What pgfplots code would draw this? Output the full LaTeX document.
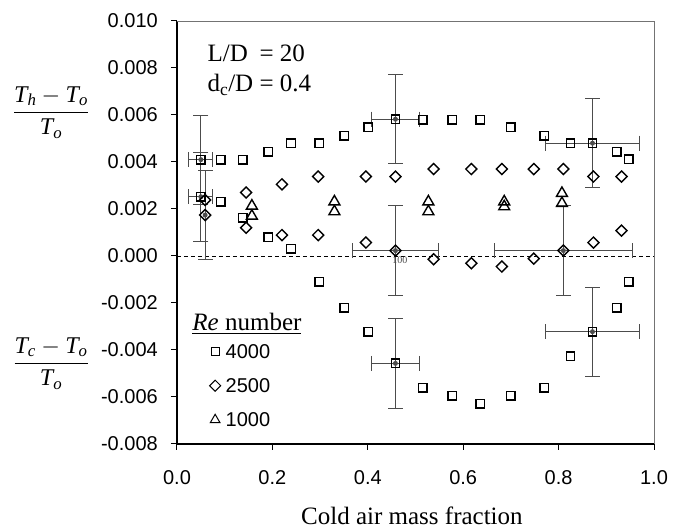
\RequirePackage{fix-cm}
\documentclass[border=0pt]{standalone}
\usepackage{amsmath}
\usepackage{fontspec}
\setmainfont{Liberation Serif}
\setsansfont{Liberation Sans}
\usepackage{pgfplots}
\usepackage{pgfplotstable}
\pgfplotsset{compat=1.18}

% Re = 4000, hot branch then cold branch
\pgfplotstableread{
x      y
0.050  0.00409
0.092  0.00410
0.138  0.00410
0.191  0.00444
0.239  0.00480
0.298  0.00480
0.351  0.00512
0.401  0.00548
0.458  0.00582
0.515  0.00580
0.577  0.00580
0.636  0.00580
0.700  0.00548
0.770  0.00512
0.825  0.00480
0.871  0.00480
0.922  0.00444
0.947  0.00412
0.050  0.00252
0.092  0.00231
0.138  0.00163
0.191  0.00080
0.239  0.00030
0.298 -0.00109
0.351 -0.00220
0.401 -0.00322
0.458 -0.00457
0.515 -0.00560
0.577 -0.00594
0.636 -0.00628
0.700 -0.00594
0.770 -0.00560
0.825 -0.00426
0.871 -0.00322
0.922 -0.00220
0.947 -0.00109
}\reA

% Re = 2500
\pgfplotstableread{
x      y
0.059  0.00238
0.145  0.00270
0.220  0.00305
0.296  0.00338
0.396  0.00338
0.458  0.00338
0.538  0.00370
0.617  0.00370
0.681  0.00370
0.748  0.00370
0.810  0.00370
0.873  0.00338
0.932  0.00338
0.059  0.00174
0.145  0.00120
0.220  0.00089
0.296  0.00089
0.396  0.00057
0.458  0.00023
0.538 -0.00014
0.617 -0.00031
0.681 -0.00045
0.748 -0.00011
0.810  0.00023
0.873  0.00057
0.932  0.00108
}\reB

% Re = 1000
\pgfplotstableread{
x      y
0.157  0.00213
0.157  0.00170
0.330  0.00231
0.330  0.00189
0.527  0.00231
0.527  0.00189
0.686  0.00231
0.686  0.00210
0.807  0.00267
0.807  0.00224
}\reC

% error bars (x and y)
\pgfplotstableread{
x      y        ex     ey
0.050  0.00410  0.025  0.0019
0.050  0.00252  0.025  0.0019
0.458  0.00582  0.050  0.0019
0.458  0.00023  0.090  0.0019
0.458 -0.00457  0.050  0.0019
0.871  0.00480  0.099  0.0019
0.810  0.00023  0.145  0.0019
0.871 -0.00322  0.099  0.0019
}\errXY

% error bar (y only)
\pgfplotstableread{
x      y        ey
0.059  0.00174  0.0019
}\errY

\begin{document}
\begin{tikzpicture}
\begin{axis}[
  scale only axis, width=477pt, height=423pt,
  xmin=0, xmax=1, ymin=-0.008, ymax=0.010,
  clip=false,
  axis x line*=bottom, axis y line*=left,
  axis line style={line width=1.3pt, -},
  tick style={black, line width=1pt},
  tick align=outside, major tick length=6pt,
  xtick={0,0.2,0.4,0.6,0.8,1.0},
  ytick={-0.008,-0.006,-0.004,-0.002,0,0.002,0.004,0.006,0.008,0.010},
  scaled y ticks=false, scaled x ticks=false,
  /pgf/number format/assume math mode=true,
  xticklabel style={/pgf/number format/fixed, /pgf/number format/fixed zerofill, /pgf/number format/precision=1, yshift=-20pt},
  yticklabel style={/pgf/number format/fixed, /pgf/number format/fixed zerofill, /pgf/number format/precision=3, xshift=-13pt},
  ticklabel style={font=\fontsize{20}{24}\sffamily, inner sep=0pt},
  legend style={draw=none, fill=none, inner sep=0pt,
    at={(axis cs:0.068,-0.00376)}, anchor=north west,
    font=\fontsize{20}{24}\sffamily,
    nodes={inner sep=0pt, text depth=0pt},
    row sep=20.2pt, column sep=5pt},
  legend cell align=left,
  legend image code/.code={\draw[#1] plot coordinates {(0pt,0pt)};},
  errbar/.style={black!70, line width=0.9pt, forget plot, mark=none, only marks,
    error bars/error bar style={draw=black!70, line width=0.9pt},
    error bars/error mark=none},
  errcap/.style={black!70, line width=0.9pt, forget plot, only marks, mark size=7.5pt},
]
\coordinate (sw) at (rel axis cs:0,0);
\draw[black!55, line width=0.8pt] (rel axis cs:0,1) -- (rel axis cs:1,1) -- (rel axis cs:1,0);

\addplot[black, dash pattern=on 4pt off 3pt, line width=0.8pt, forget plot]
  coordinates {(0,0) (1,0)};

% error bars and their end caps
\addplot[errbar, error bars/.cd, x dir=both, x explicit, y dir=both, y explicit]
  table[x=x, y=y, x error=ex, y error=ey] {\errXY};
\addplot[errbar, error bars/.cd, y dir=both, y explicit]
  table[x=x, y=y, y error=ey] {\errY};
\addplot[errcap, mark=-] table[x=x, y expr=\thisrow{y}+\thisrow{ey}] {\errXY};
\addplot[errcap, mark=-] table[x=x, y expr=\thisrow{y}-\thisrow{ey}] {\errXY};
\addplot[errcap, mark=|] table[x expr=\thisrow{x}+\thisrow{ex}, y=y] {\errXY};
\addplot[errcap, mark=|] table[x expr=\thisrow{x}-\thisrow{ex}, y=y] {\errXY};
\addplot[errcap, mark=-] table[x=x, y expr=\thisrow{y}+\thisrow{ey}] {\errY};
\addplot[errcap, mark=-] table[x=x, y expr=\thisrow{y}-\thisrow{ey}] {\errY};

\addplot[black, only marks, mark=square, mark size=4.25pt, line width=1.4pt,
  legend image post style={mark size=4pt, line width=1pt}]
  table[x=x, y=y] {\reA};
\addlegendentry{4000}
\addplot[black, only marks, mark=square, mark size=3.9pt, line width=1.4pt,
  mark options={rotate=45},
  legend image post style={mark size=3.9pt, line width=1pt}]
  table[x=x, y=y] {\reB};
\addlegendentry{2500}
\addplot[black, only marks, mark=triangle, mark size=6.3pt, line width=1.4pt,
  legend image post style={mark size=5.6pt, line width=1pt}]
  table[x=x, y=y] {\reC};
\addlegendentry{1000}

\node[anchor=base west, font=\fontsize{25}{30}\selectfont] at (axis cs:0.0566,0.00827)
  {\rlap{L/D}\phantom{d\textsubscript{c}/D} = 20};
\node[anchor=base west, font=\fontsize{25}{30}\selectfont] at (axis cs:0.0566,0.00699)
  {d\textsubscript{c}/D = 0.4};
\node[anchor=base west, font=\fontsize{25}{30}\selectfont] at (axis cs:0.0250,-0.00315)
  {\underline{\textit{Re} number}};
\node[font=\fontsize{10}{12}\selectfont, text=black!70, inner sep=0pt] at (axis cs:0.4675,-0.00016) {100};
\node[font=\fontsize{24}{28}\selectfont] at (axis cs:-0.264,0.00611)
  {$\dfrac{\textit{T}_{\textit{h}} - \textit{T}_{\textit{o}}}{\textit{T}_{\textit{o}}}$};
\node[font=\fontsize{24}{28}\selectfont] at (axis cs:-0.264,-0.00457)
  {$\dfrac{\textit{T}_{\textit{c}} - \textit{T}_{\textit{o}}}{\textit{T}_{\textit{o}}}$};
\node[anchor=base, font=\fontsize{25}{30}\selectfont] at (axis cs:0.4925,-0.008) [yshift=-81pt] {Cold air mass fraction};
\end{axis}
\pgfresetboundingbox
\path[use as bounding box] ([shift={(-177pt,-85pt)}]sw) rectangle ([shift={(511pt,444pt)}]sw);
\end{tikzpicture}
\end{document}
